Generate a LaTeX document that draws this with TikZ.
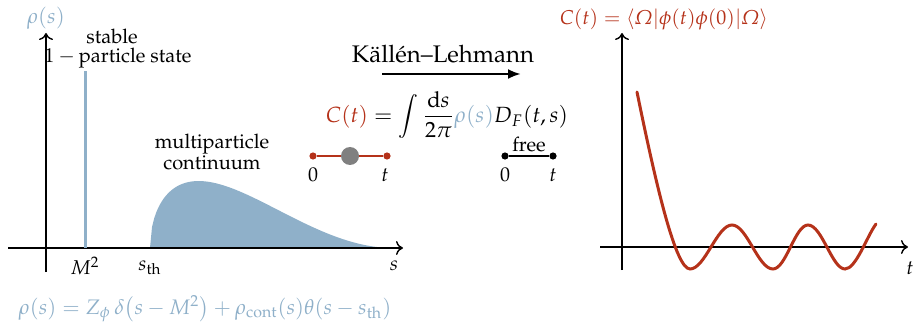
\documentclass[tikz,border=0pt]{standalone}
\usepackage[T1]{fontenc}
\usepackage[slantedGreek]{mathpazo}
\usetikzlibrary{arrows.meta}
\definecolor{rhoblue}{RGB}{143,176,201}
\definecolor{cred}{RGB}{181,50,26}
\definecolor{dotgray}{RGB}{128,128,128}
\begin{document}
\begin{tikzpicture}[x=0.5pt,y=-0.5pt,
  axis/.style={line width=0.7pt,-{To[length=3.5pt,width=7pt]}},
  lbl/.style={font=\fontsize{10}{12}\selectfont, inner sep=0pt},
  biglbl/.style={font=\fontsize{12}{14}\selectfont, inner sep=0pt},
  rdot/.style={circle, fill=cred, inner sep=0pt, minimum size=3.6pt},
  bdot/.style={circle, fill=black, inner sep=0pt, minimum size=3.6pt}]
\useasboundingbox (0,0) rectangle (916,326);

% ---------- left plot ----------
\coordinate (lyb) at (46,272);
\coordinate (lyt) at (46,33);
\coordinate (lxl) at (8,248);
\coordinate (lxr) at (403,248);
\fill[rhoblue] plot[domain=0:1,samples=120] ({150+243*\x},{248-234*sqrt(\x)*(1-\x)^2}) -- cycle;
\draw[axis] (lyb) -- (lyt);
\draw[axis] (lxl) -- (lxr);
\coordinate (stb) at (85,248);
\coordinate (stt) at (85,71);
\draw[rhoblue, line width=1.5pt] (stb) -- (stt);

\node[lbl, text=rhoblue, font=\fontsize{10.5}{12}\selectfont] (rholab) at (46,18) {$\rho(s)$};
\node[lbl] (stable) at (112,36) {stable};
\node[lbl] (onep) at (118,58) {$1-{}$particle state};
\node[lbl] (m2) at (85,266) {$M^2$};
\node[lbl] (sth) at (150,268) {$s_{\mathrm{th}}$};
\node[lbl] (slab) at (394,266) {$s$};
\node[lbl] (multi) at (212,144) {multiparticle};
\node[lbl] (cont) at (212,163) {continuum};
\node[lbl, text=rhoblue, font=\fontsize{10.5}{12}\selectfont] (rhoform) at (205,309)
  {$\rho(s) = Z_\phi\,\delta\big(s-M^2\big) + \rho_{\mathrm{cont}}(s)\theta(s-s_{\mathrm{th}})$};

% ---------- middle ----------
\node[biglbl] (kl) at (443,54) {K\"all\'en--Lehmann};
\coordinate (kla) at (382,74);
\coordinate (klb) at (521,74);
\draw[line width=1.35pt, -{Latex[length=6.5pt,width=5pt]}] (kla) -- (klb);
\node[lbl, font=\fontsize{11}{13}\selectfont] (cform) at (447,115)
  {$\displaystyle \textcolor{cred}{C(t)} = \int \frac{\mathrm{d}s}{2\pi}\textcolor{rhoblue}{\rho(s)}D_F(t,s)$};

\node[rdot] (r0) at (313,156) {};
\node[rdot] (rt) at (387,156) {};
\draw[cred, line width=0.8pt] (r0) -- (rt);
\node[circle, fill=dotgray, inner sep=0pt, minimum size=9pt] (blob) at (350,156) {};
\node[lbl] (r0lab) at (313,175) {$0$};
\node[lbl] (rtlab) at (385,175) {$t$};

\node[bdot] (f0) at (505,156) {};
\node[bdot] (ft) at (553,156) {};
\draw[line width=0.8pt] (f0) -- (ft);
\node[lbl] (free) at (529,144) {free};
\node[lbl] (f0lab) at (505,175) {$0$};
\node[lbl] (ftlab) at (553,175) {$t$};

% ---------- right plot ----------
\coordinate (ryb) at (622,270);
\coordinate (ryt) at (622,33);
\coordinate (rxl) at (600,247);
\coordinate (rxr) at (908,247);
\draw[axis] (ryb) -- (ryt);
\draw[axis] (rxl) -- (rxr);
\node[lbl] (tlab) at (910,268) {$t$};
\node[lbl, text=cred] (clab) at (664,19) {$C(t) = \langle\Omega|\phi(t)\phi(0)|\Omega\rangle$};

\draw[cred, line width=1.5pt, line cap=round]
  (637,92) .. controls (657,190) and (676,269) .. (690,269)
  .. controls (705,269) and (717,225) .. (732,225)
  .. controls (747,225) and (758,269) .. (773,269)
  .. controls (786,269) and (795,225) .. (808,225)
  .. controls (822,225) and (832,269) .. (845,269)
  .. controls (856,269) and (867,236) .. (876,224);
\end{tikzpicture}
\end{document}
